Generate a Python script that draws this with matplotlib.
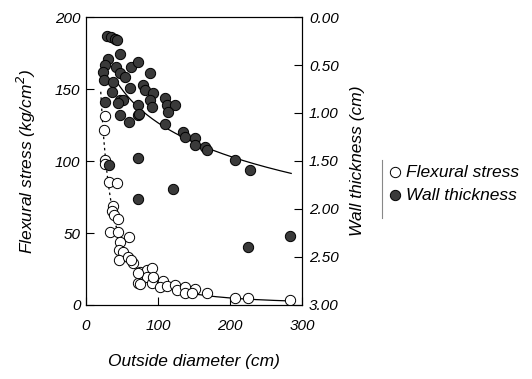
import numpy as np
import matplotlib
matplotlib.use("Agg")
import matplotlib.pyplot as plt
from matplotlib.lines import Line2D

plt.rcParams['font.family'] = ['Liberation Sans', 'DejaVu Sans']
plt.rcParams['font.style'] = 'italic'

# Flexural stress (kg/cm^2) vs outside diameter (cm)
stress_x = [26, 25, 26, 27, 32, 43, 37.5, 36, 39, 44, 33, 44, 60, 47, 46, 51, 46, 58,
            65, 62.5, 75, 85, 92, 85, 72, 92, 72, 75, 93, 107, 103, 112, 124, 126,
            137.5, 151, 137.5, 147, 168, 207, 225, 283]
stress_y = [131, 121.5, 101, 98, 85.5, 84.7, 69, 65, 62.5, 60, 51, 51, 47, 44, 38, 37, 31, 33,
            29, 31, 23, 24, 26, 19.5, 15, 15, 22, 14.6, 19.4, 17, 12.5, 13, 14, 10.4,
            12.5, 11, 8.3, 8.3, 8.3, 4.9, 4.9, 3.5]

# Wall thickness (cm) vs outside diameter (cm)
wall_x = [29, 35, 40, 43, 47, 31, 26, 24, 25, 42, 47, 54, 63, 72, 89, 38, 36, 61, 79, 82, 93,
          89, 92, 110, 112, 124, 114, 47, 51, 44, 72, 26, 47, 60, 72, 74, 110, 135, 138,
          151, 151, 165, 168, 207, 228, 225, 283, 32, 72, 72, 121]
wall_t = [0.20, 0.21, 0.23, 0.24, 0.39, 0.44, 0.50, 0.57, 0.66, 0.52, 0.58, 0.63, 0.52, 0.47,
          0.58, 0.68, 0.78, 0.74, 0.71, 0.76, 0.79, 0.86, 0.94, 0.84, 0.92, 0.92, 0.99, 0.86,
          0.86, 0.90, 0.92, 0.89, 1.02, 1.09, 1.02, 1.01, 1.11, 1.20, 1.25, 1.26, 1.33, 1.35,
          1.39, 1.49, 1.59, 2.40, 2.28, 1.54, 1.47, 1.90, 1.79]

# Fitted trend curves (coefficients)
stress_fit = dict(A=np.exp(10.293), shift=5.0, p=1.635, x_start=20.5, x_break=42, x_end=285)
wall_fit = dict(a=-1.214, b=0.503, x_start=44, x_end=285)

x_ticks = [0, 100, 200, 300]
y_ticks = [0, 50, 100, 150, 200]
t_ticks = [0.0, 0.5, 1.0, 1.5, 2.0, 2.5, 3.0]

fig = plt.figure(figsize=(5.32, 3.79), dpi=100)
ax = fig.add_axes([86/532, 1-305/379, 216/532, 288/379])
ax.set_xlim(0, 300)
ax.set_ylim(0, 200)

def stress_curve(x):
    return stress_fit['A'] * (x + stress_fit['shift']) ** (-stress_fit['p'])

xa = np.linspace(stress_fit['x_start'], stress_fit['x_break'], 60)
xb = np.linspace(stress_fit['x_break'], stress_fit['x_end'], 200)
ax.plot(xa, stress_curve(xa), color='black', lw=0.9, ls=(0, (2, 2.5)), zorder=2)
ax.plot(xb, stress_curve(xb), color='black', lw=0.9, zorder=2)
ax.scatter(stress_x, stress_y, s=55, facecolor='white', edgecolor='black', linewidth=0.7,
           zorder=3, label='Flexural stress')

ax.set_xticks(x_ticks)
ax.set_yticks(y_ticks)
ax.tick_params(direction='in', length=6, width=0.8, labelsize=11)
ax.tick_params(axis='x', pad=10)
ax.tick_params(axis='y', pad=4)
ax.set_xlabel('Outside diameter (cm)', fontsize=12.5, labelpad=15)
ax.set_ylabel('Flexural stress (kg/cm$^2$)', fontsize=12.5, labelpad=12)

ax2 = ax.twinx()
ax2.set_ylim(3.0, 0.0)
wx = np.linspace(wall_fit['x_start'], wall_fit['x_end'], 200)
ax2.plot(wx, wall_fit['a'] + wall_fit['b'] * np.log(wx), color='black', lw=0.9, zorder=2)
ax2.scatter(wall_x, wall_t, s=55, facecolor='#3a3a3a', edgecolor='black', linewidth=0.7,
            zorder=3, label='Wall thickness')
ax2.set_yticks(t_ticks)
ax2.set_yticklabels([f'{t:.2f}' for t in t_ticks])
ax2.tick_params(direction='in', length=6, width=0.8, labelsize=11, pad=5)
ax2.set_ylabel('Wall thickness (cm)', fontsize=12.5, labelpad=8)

for a in (ax, ax2):
    for sp in a.spines.values():
        sp.set_linewidth(0.8)

h1, l1 = ax.get_legend_handles_labels()
h2, l2 = ax2.get_legend_handles_labels()
leg = fig.legend(h1 + h2, l1 + l2, loc='upper left', bbox_to_anchor=(385/532, 1-161/379),
                 frameon=False, fontsize=12.5, handletextpad=0.2, borderpad=0.2,
                 handlelength=0.8, labelspacing=0.45, borderaxespad=0)
fig.add_artist(Line2D([382/532, 382/532], [1-160/379, 1-218/379], color='#888888', lw=0.8))

fig.savefig('out.png', dpi=100)
